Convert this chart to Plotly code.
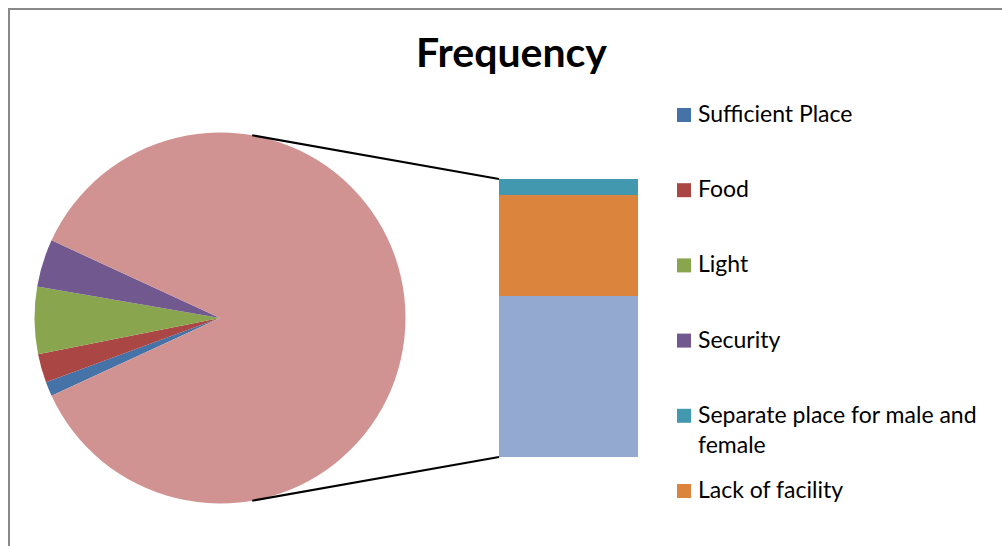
import math
import plotly.graph_objects as go

# ---- data -------------------------------------------------------------
pie_labels = ["Sufficient Place", "Food", "Light", "Security"]
pie_values = [3, 6, 14, 10]
bar_labels = ["Separate place for male and female", "Lack of facility", "Others"]
bar_values = [12, 75, 120]
legend_labels = ["Sufficient Place", "Food", "Light", "Security",
                 "Separate place for male and<br>female", "Lack of facility"]
title_text = "Frequency"

pie_colors = ["#4572A7", "#AA4643", "#89A54E", "#71588F"]
other_color = "#D19392"
bar_colors = ["#4198AF", "#DB843D", "#93A9CF"]

# ---- canvas geometry (pixels) -----------------------------------------
W, H = 1002, 546
FONT = "Lato"


def px(x):
    return x / W


def py(y):
    return 1 - y / H


pie_cx, pie_cy, pie_r = 220, 318, 185.5
bar_left, bar_right, bar_top, bar_bottom = 499, 638, 179, 457

fig = go.Figure()

# main pie: first slices plus the combined remainder, remainder centred at 3 o'clock
others_total = sum(bar_values)
small_share = sum(pie_values) / (sum(pie_values) + others_total)
fig.add_trace(go.Pie(
    labels=pie_labels + ["Other"],
    values=pie_values + [others_total],
    marker=dict(colors=pie_colors + [other_color], line=dict(width=0)),
    sort=False,
    direction="clockwise",
    rotation=-90 - 180 * small_share,
    textinfo="none",
    showlegend=False,
    domain=dict(x=[px(pie_cx - pie_r), px(pie_cx + pie_r)],
                y=[py(pie_cy + pie_r), py(pie_cy - pie_r)]),
))

# secondary stacked bar breaking down the remainder
for lab, val, col in reversed(list(zip(bar_labels, bar_values, bar_colors))):
    fig.add_trace(go.Bar(
        x=[0], y=[val], width=[1], name=lab,
        marker=dict(color=col, line=dict(width=0)),
        showlegend=False, xaxis="x", yaxis="y",
    ))

# connector lines from the pie to the bar corners
ang = math.radians(80)
conn = [
    (pie_cx + pie_r * math.cos(ang), pie_cy - pie_r * math.sin(ang), bar_left, bar_top),
    (pie_cx + pie_r * math.cos(ang), pie_cy + pie_r * math.sin(ang), bar_left, bar_bottom),
]
shapes = []
for x0, y0, x1, y1 in conn:
    shapes.append(dict(type="line", xref="paper", yref="paper",
                       x0=px(x0), y0=py(y0), x1=px(x1), y1=py(y1),
                       line=dict(color="black", width=2)))

# chart border
shapes.append(dict(type="rect", xref="paper", yref="paper",
                   x0=px(9), y0=py(H + 20), x1=px(W + 20), y1=py(9),
                   line=dict(color="#888888", width=2), fillcolor="rgba(0,0,0,0)"))

# legend
legend_colors = pie_colors + bar_colors[:2]
annotations = []
first_c, step = 115, 75.2
for i, (lab, col) in enumerate(zip(legend_labels, legend_colors)):
    c = first_c + step * i
    shapes.append(dict(type="rect", xref="paper", yref="paper",
                       x0=px(677), x1=px(691), y0=py(c + 7), y1=py(c - 7),
                       fillcolor=col, line=dict(width=0)))
    annotations.append(dict(text=lab, xref="paper", yref="paper",
                            x=px(696), y=py(c - 18), xanchor="left", yanchor="top",
                            align="left", showarrow=False,
                            font=dict(family=FONT, size=23, color="black")))

fig.update_layout(
    width=W, height=H,
    margin=dict(l=0, r=0, t=0, b=0),
    paper_bgcolor="white", plot_bgcolor="white",
    title=dict(text="<b>" + title_text + "</b>", x=px(511.5), xanchor="center",
               xref="paper", y=py(53), yref="container", yanchor="middle",
               font=dict(family=FONT, size=41, color="black")),
    xaxis=dict(domain=[px(bar_left), px(bar_right)], range=[-0.5, 0.5],
               visible=False, fixedrange=True),
    yaxis=dict(domain=[py(bar_bottom), py(bar_top)], range=[0, others_total],
               visible=False, fixedrange=True),
    barmode="stack",
    shapes=shapes,
    annotations=annotations,
    showlegend=False,
)

fig.write_html("out.html")
